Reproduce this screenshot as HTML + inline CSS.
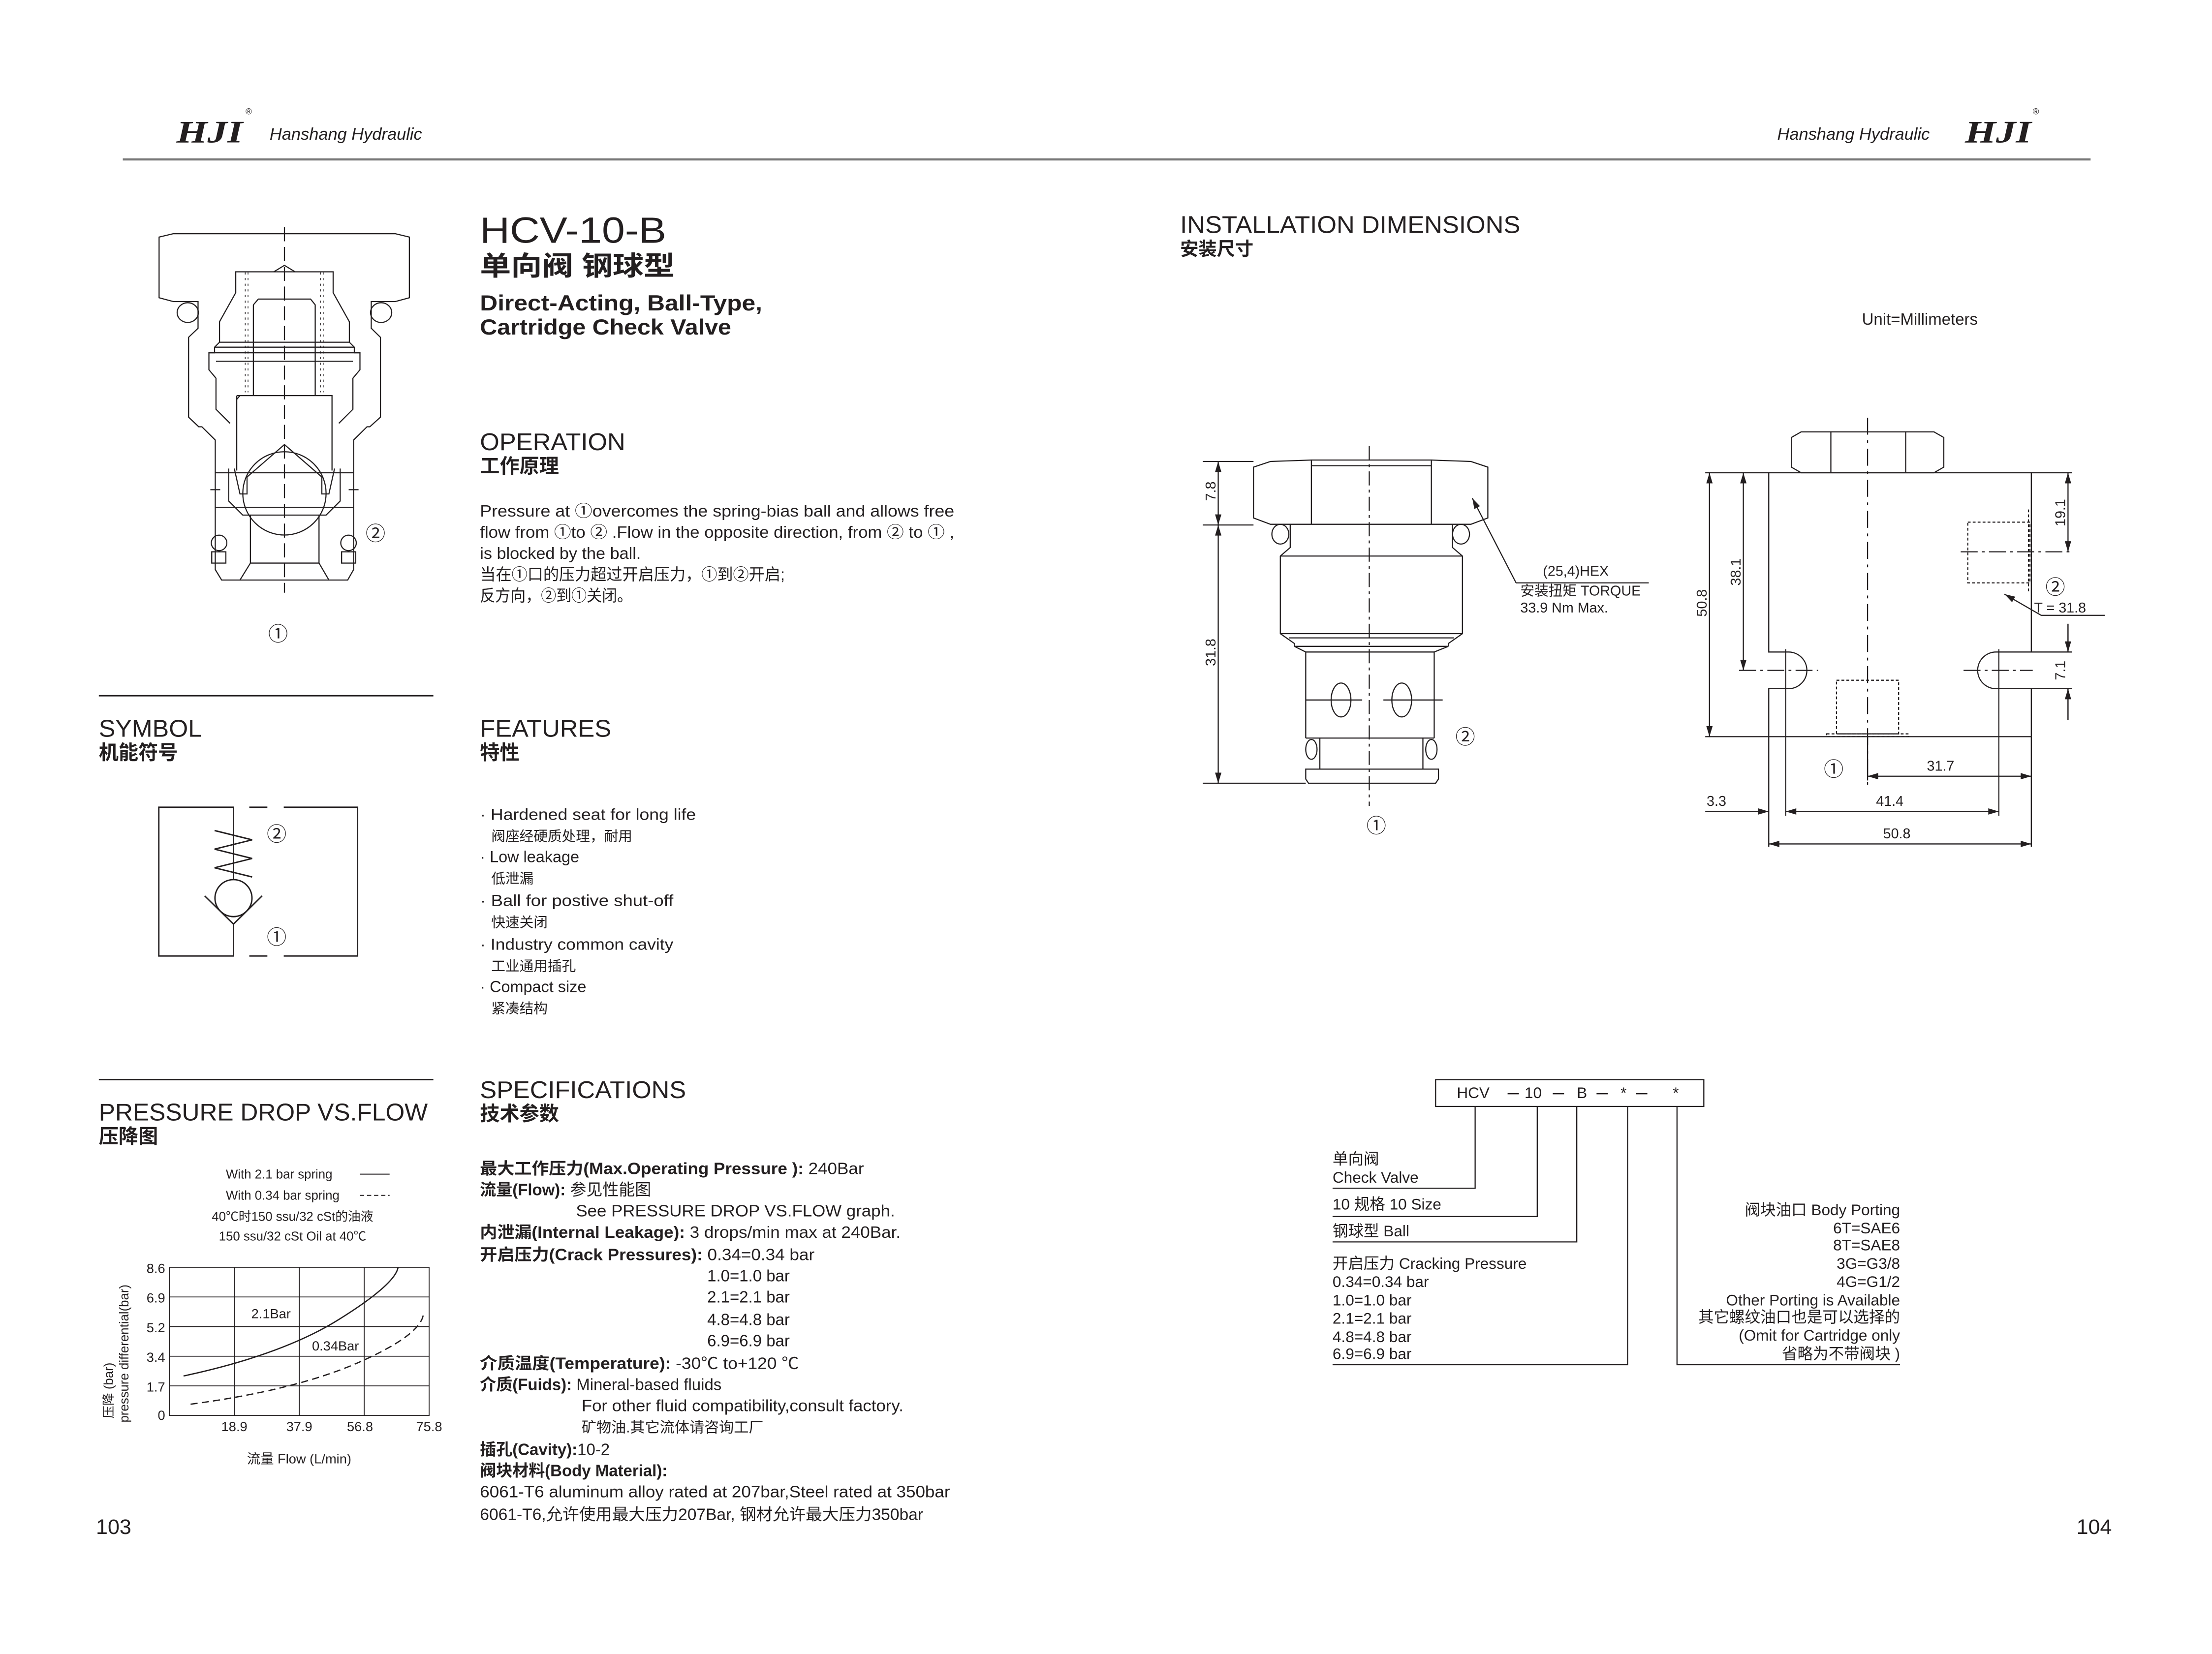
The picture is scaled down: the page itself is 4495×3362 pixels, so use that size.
<!DOCTYPE html>
<html><head><meta charset="utf-8"><style>
html,body{margin:0;padding:0;background:#fff}
svg{display:block}
text{font-family:"Liberation Sans","Noto Sans CJK SC",sans-serif;fill:#231f20}
.b{font-weight:bold}
</style></head><body>
<svg width="4495" height="3362" viewBox="0 0 1567 1172" preserveAspectRatio="none" xmlns="http://www.w3.org/2000/svg">
<defs>
<marker id="a" viewBox="0 0 10 6" refX="10" refY="3" markerWidth="8" markerHeight="4.5" orient="auto-start-reverse" markerUnits="userSpaceOnUse"><path d="M0 0 L10 3 L0 6 Z" fill="#231f20"/></marker>
</defs>
<line x1="87" y1="113" x2="1481" y2="113" stroke="#777" stroke-width="1.5"/>
<text x="125" y="101" font-size="22" font-style="italic" class="b" style="font-family:'Liberation Serif',serif" textLength="47" lengthAdjust="spacingAndGlyphs">HJI</text>
<text x="174" y="81" font-size="6">®</text>
<text x="191" y="99" font-size="12" font-style="italic">Hanshang Hydraulic</text>
<text x="1259" y="99" font-size="12" font-style="italic">Hanshang Hydraulic</text>
<text x="1392" y="101" font-size="22" font-style="italic" class="b" style="font-family:'Liberation Serif',serif" textLength="47" lengthAdjust="spacingAndGlyphs">HJI</text>
<text x="1440" y="81" font-size="6">®</text>

<!-- left valve section drawing -->
<g stroke="#231f20" fill="none" stroke-width="0.8">
<path d="M122.8 165.6 L280 165.6 L290 168 L290 211 L280 213.7 L263 213.7 L263 232.6 L269.5 239 L269.5 295.6 L262 302.4 L260 302.4 L250.5 311.8 L250.5 403.6 L246.3 411 L157 411 L152.5 403.6 L152.5 311.8 L143 302.4 L140.8 302.4 L133.6 295.6 L133.6 239 L140.3 232.6 L140.3 213.7 L122.8 213.7 L112.7 211 L112.7 168 Z"/>
<ellipse cx="133" cy="221.5" rx="7.5" ry="7"/><ellipse cx="270" cy="221.5" rx="7.5" ry="7"/>
<path d="M167 207.4 L167 192.6 L236 192.6 L236 207.4 L247.5 228 L247.5 242.5 L251 246 L251 250 L255 250 L255 262 L250 268 L250 290 L240 300 M167 207.4 L155.5 228 L155.5 242.5 L152 246 L152 250 L148 250 L148 262 L153 268 L153 290 L163 300"/>
<path d="M155.5 242.5 H247.5 M152 246 H251 M148 250 H255 M153 256 H250"/>
<path d="M194 192.6 L201.5 188 L209 192.6"/>
<path d="M179.5 280.3 V216 L183 211.9 H220 L223.3 216 V280.3"/>
<path d="M167.7 280.3 H235.2 V333.4 M167.7 280.3 V333.4 M170 280.3 L167.7 283"/>
<path d="M152.5 335 H250.3 M152.5 359.5 H250.3"/>
<path d="M166 332 L170 350 H175 L175 338 L201.5 315 L228 338 L228 350 H233 L237 332"/>
<path d="M162 332 V355 L172 365 H231 L241 355 V332"/>
<circle cx="201.5" cy="349.6" r="29.5"/>
<path d="M177.4 365 V399 H226 V365 M177.4 399 L170 411 M226 399 L233 411"/>
<ellipse cx="155.2" cy="384.7" rx="5.5" ry="5.5"/><ellipse cx="246.9" cy="384.7" rx="5.5" ry="5.5"/>
<rect x="150" y="391" width="10" height="8"/><rect x="242" y="391" width="10" height="8"/>
<path d="M149 347 H156 M247 347 H254"/>
<line x1="201.5" y1="161" x2="201.5" y2="420" stroke-dasharray="10 4"/>
</g>
<g fill="none" stroke="#231f20" stroke-width="0.5">
<path d="M175.7 193 V278 M227 193 V278" stroke-dasharray="1.5 2.5"/>
<path d="M173.7 193 V278 M229 193 V278" stroke-dasharray="1.5 2.5"/>
</g>
<text x="259" y="383" font-size="14">②</text>
<text x="190" y="454" font-size="14">①</text>

<!-- Title -->
<text x="340" y="172" font-size="26" textLength="132" lengthAdjust="spacingAndGlyphs">HCV-10-B</text>
<text x="340" y="195" font-size="19" class="b" textLength="138" lengthAdjust="spacingAndGlyphs">单向阀 钢球型</text>
<text x="340" y="220" font-size="15.5" class="b" textLength="200" lengthAdjust="spacingAndGlyphs">Direct-Acting, Ball-Type,</text>
<text x="340" y="237" font-size="15.5" class="b" textLength="178" lengthAdjust="spacingAndGlyphs">Cartridge Check Valve</text>

<text x="340" y="319" font-size="17" textLength="103" lengthAdjust="spacingAndGlyphs">OPERATION</text>
<text x="340" y="335" font-size="14" class="b">工作原理</text>
<g font-size="11.5">
<text x="340" y="366" textLength="336" lengthAdjust="spacingAndGlyphs">Pressure at ①overcomes the spring-bias ball and allows free</text>
<text x="340" y="381" textLength="336" lengthAdjust="spacingAndGlyphs">flow from ①to ② .Flow in the opposite direction, from ② to ① ,</text>
<text x="340" y="396" textLength="114" lengthAdjust="spacingAndGlyphs">is blocked by the ball.</text>
<text x="340" y="411" textLength="216" lengthAdjust="spacingAndGlyphs">当在①口的压力超过开启压力，①到②开启;</text>
<text x="340" y="426" textLength="108" lengthAdjust="spacingAndGlyphs">反方向，②到①关闭。</text>
</g>

<!-- Symbol -->
<line x1="70" y1="493" x2="307" y2="493" stroke="#231f20" stroke-width="1"/>
<text x="70" y="522" font-size="17" textLength="73" lengthAdjust="spacingAndGlyphs">SYMBOL</text>
<text x="70" y="538" font-size="14" class="b">机能符号</text>
<g stroke="#231f20" fill="none" stroke-width="1">
<path d="M165.4 588 V572 H112.5 V677.4 H165.4 V654.8 M165.4 572 V623"/>
<path d="M176.6 572 H189.4 M176.6 677.4 H189.4 M201 572 H253.3 V677.4 H201"/>
<path d="M152 588.5 L178.6 595.1 L152 601.7 L178.6 608.3 L152 614.9 L178.6 621.4"/>
<circle cx="165.4" cy="636.4" r="13.1"/>
<path d="M145 634.8 L165.4 654.8 L185.7 634.8"/>
</g>
<text x="189" y="596" font-size="14">②</text>
<text x="189" y="669" font-size="14">①</text>

<!-- Features -->
<text x="340" y="522" font-size="17" textLength="93" lengthAdjust="spacingAndGlyphs">FEATURES</text>
<text x="340" y="538" font-size="14" class="b">特性</text>
<g font-size="11.3">
<text x="340" y="581" textLength="153" lengthAdjust="spacingAndGlyphs">· Hardened seat for long life</text>
<text x="348" y="596" font-size="10">阀座经硬质处理，耐用</text>
<text x="340" y="611">· Low leakage</text>
<text x="348" y="626" font-size="10">低泄漏</text>
<text x="340" y="642" textLength="137" lengthAdjust="spacingAndGlyphs">· Ball for postive shut-off</text>
<text x="348" y="657" font-size="10">快速关闭</text>
<text x="340" y="673" textLength="137" lengthAdjust="spacingAndGlyphs">· Industry common cavity</text>
<text x="348" y="688" font-size="10">工业通用插孔</text>
<text x="340" y="703">· Compact size</text>
<text x="348" y="718" font-size="10">紧凑结构</text>
</g>

<!-- Pressure drop -->
<line x1="70" y1="765" x2="307" y2="765" stroke="#231f20" stroke-width="1"/>
<text x="70" y="794" font-size="17" textLength="233" lengthAdjust="spacingAndGlyphs">PRESSURE DROP VS.FLOW</text>
<text x="70" y="810" font-size="14" class="b">压降图</text>
<g font-size="9">
<text x="160" y="835">With 2.1 bar spring</text>
<line x1="255" y1="832" x2="276" y2="832" stroke="#231f20" stroke-width="0.7"/>
<text x="160" y="850">With 0.34 bar spring</text>
<line x1="255" y1="847" x2="276" y2="847" stroke="#231f20" stroke-width="0.7" stroke-dasharray="3 2"/>
<text x="150" y="865">40℃时150 ssu/32 cSt的油液</text>
<text x="155" y="879">150 ssu/32 cSt Oil at 40℃</text>
</g>
<g stroke="#231f20" fill="none" stroke-width="0.6">
<rect x="120" y="898" width="184" height="105"/>
<path d="M120 919 H304 M120 940 H304 M120 961 H304 M120 982 H304 M166 898 V1003 M212 898 V1003 M258 898 V1003"/>
<path d="M130 975 Q200 960 240 935 T282 898" stroke-width="0.9"/>
<path d="M135 995 Q210 985 255 965 T300 930" stroke-width="0.9" stroke-dasharray="5 3"/>
</g>
<g font-size="9.5">
<text x="117" y="902" text-anchor="end">8.6</text>
<text x="117" y="923" text-anchor="end">6.9</text>
<text x="117" y="944" text-anchor="end">5.2</text>
<text x="117" y="965" text-anchor="end">3.4</text>
<text x="117" y="986" text-anchor="end">1.7</text>
<text x="117" y="1006" text-anchor="end">0</text>
<text x="166" y="1014" text-anchor="middle">18.9</text>
<text x="212" y="1014" text-anchor="middle">37.9</text>
<text x="255" y="1014" text-anchor="middle">56.8</text>
<text x="304" y="1014" text-anchor="middle">75.8</text>
<text x="178" y="934">2.1Bar</text>
<text x="221" y="957">0.34Bar</text>
<text x="175" y="1037">流量 Flow (L/min)</text>
<text transform="translate(80,1005) rotate(-90)" font-size="9">压降 (bar)</text>
<text transform="translate(91,1008) rotate(-90)" font-size="9">pressure differential(bar)</text>
</g>

<!-- Specifications -->
<text x="340" y="778" font-size="17" textLength="146" lengthAdjust="spacingAndGlyphs">SPECIFICATIONS</text>
<text x="340" y="794" font-size="14" class="b">技术参数</text>
<g font-size="11.5">
<text x="340" y="832" textLength="272" lengthAdjust="spacingAndGlyphs"><tspan class="b">最大工作压力(Max.Operating Pressure ):</tspan> 240Bar</text>
<text x="340" y="847"><tspan class="b">流量(Flow):</tspan> 参见性能图</text>
<text x="408" y="862" textLength="226" lengthAdjust="spacingAndGlyphs">See PRESSURE DROP VS.FLOW graph.</text>
<text x="340" y="877" textLength="298" lengthAdjust="spacingAndGlyphs"><tspan class="b">内泄漏(Internal Leakage):</tspan> 3 drops/min max at 240Bar.</text>
<text x="340" y="893" textLength="237" lengthAdjust="spacingAndGlyphs"><tspan class="b">开启压力(Crack Pressures):</tspan> 0.34=0.34 bar</text>
<text x="501" y="908">1.0=1.0 bar</text>
<text x="501" y="923">2.1=2.1 bar</text>
<text x="501" y="939">4.8=4.8 bar</text>
<text x="501" y="954">6.9=6.9 bar</text>
<text x="340" y="970" textLength="226" lengthAdjust="spacingAndGlyphs"><tspan class="b">介质温度(Temperature):</tspan> -30℃ to+120 ℃</text>
<text x="340" y="985"><tspan class="b">介质(Fuids):</tspan> Mineral-based fluids</text>
<text x="412" y="1000" textLength="228" lengthAdjust="spacingAndGlyphs">For other fluid compatibility,consult factory.</text>
<text x="412" y="1015" font-size="10.5">矿物油.其它流体请咨询工厂</text>
<text x="340" y="1031"><tspan class="b">插孔(Cavity):</tspan>10-2</text>
<text x="340" y="1046" class="b">阀块材料(Body Material):</text>
<text x="340" y="1061" textLength="333" lengthAdjust="spacingAndGlyphs">6061-T6 aluminum alloy rated at 207bar,Steel rated at 350bar</text>
<text x="340" y="1077" textLength="314" lengthAdjust="spacingAndGlyphs">6061-T6,允许使用最大压力207Bar, 钢材允许最大压力350bar</text>
</g>
<text x="68" y="1087" font-size="15">103</text>
<text x="1471" y="1087" font-size="15">104</text>

<!-- Installation -->
<text x="836" y="165" font-size="17" textLength="241" lengthAdjust="spacingAndGlyphs">INSTALLATION DIMENSIONS</text>
<text x="836" y="181" font-size="13" class="b">安装尺寸</text>
<text x="1319" y="230" font-size="11.5">Unit=Millimeters</text>

<g stroke="#231f20" fill="none" stroke-width="0.8">
<!-- cartridge -->
<path d="M888 331 L900 327 L929 326 L1014 326 L1042 327 L1054 331 L1054 367 L1042 371.5 L900 371.5 L888 367 Z M929 326 V371.5 M1014 326 V371.5 M929 330 L1014 330"/>
<ellipse cx="907" cy="378.5" rx="6" ry="7"/><ellipse cx="1035" cy="378.5" rx="6" ry="7"/>
<path d="M914 371.5 V388 L907 394 V449 L917 456 V458 M1029 371.5 V388 L1036 394 V449 L1026 456 V458 M907 394 H1036 M907 449 H1036 M917 458 H1026 M913 452 H1030"/>
<path d="M925 462 V523 M1016 462 V523 M917 458 L925 462 H1016 L1026 458"/>
<ellipse cx="950" cy="496" rx="7" ry="12"/><ellipse cx="993" cy="496" rx="7" ry="12"/>
<path d="M925 496 H965 M980 496 H1022"/>
<path d="M925 523 H1016 M935 523 V545 M1008 523 V545"/>
<ellipse cx="929" cy="531" rx="4" ry="7"/><ellipse cx="1014" cy="531" rx="4" ry="7"/>
<path d="M925 545 H1019 V552 L1017 555 H927 L925 552 Z"/>
<line x1="970" y1="316" x2="970" y2="571" stroke-dasharray="10 3 2 3"/>
<!-- dims -->
<path d="M852 327 H888 M852 372 H888 M852 555 H925"/>
<line x1="863" y1="327" x2="863" y2="372" marker-start="url(#a)" marker-end="url(#a)"/>
<line x1="863" y1="372" x2="863" y2="555" marker-start="url(#a)" marker-end="url(#a)"/>
<path d="M1074 413 L1043 353" marker-end="url(#a)"/>
<path d="M1074 413 H1168"/>
<!-- block -->
<path d="M1269 310 L1276 306 H1370 L1377 310 V331 L1370 335 H1276 L1269 331 Z M1297 306 V335 M1350 306 V335"/>
<path d="M1208 335 H1468 M1253 335 V462 H1267 A13 13 0 0 1 1267 488 H1253 V522 M1439 335 V462 H1414 A13 13 0 0 0 1414 488 H1439 V522 M1208 522 H1439"/>
<path d="M1323 296 V560" stroke-dasharray="12 4 2 4"/>
<path d="M1232 475 H1288 M1391 475 H1440 M1389 391 H1468" stroke-dasharray="12 3 2 3"/>
<rect x="1394" y="370" width="44" height="43" stroke-dasharray="2 1.5"/>
<path d="M1437 361 V420" stroke-dasharray="2 1.5"/>
<rect x="1301" y="482" width="44" height="38" stroke-dasharray="2 1.5"/>
<rect x="1294" y="520" width="58" height="2" stroke-dasharray="2 1.5"/>
<path d="M1439 462 H1468 M1439 488 H1468"/>
<line x1="1211" y1="335" x2="1211" y2="522" marker-start="url(#a)" marker-end="url(#a)"/>
<line x1="1235" y1="335" x2="1235" y2="475" marker-start="url(#a)" marker-end="url(#a)"/>
<line x1="1465" y1="335" x2="1465" y2="391" marker-start="url(#a)" marker-end="url(#a)"/>
<path d="M1465 442 V462 M1465 488 V510"/>
<line x1="1465" y1="442" x2="1465" y2="462" marker-end="url(#a)"/>
<line x1="1465" y1="510" x2="1465" y2="488" marker-end="url(#a)"/>
<path d="M1446 436 L1420 421" marker-end="url(#a)"/>
<path d="M1446 436 H1491"/>
<path d="M1253 522 V600 M1265 460 V578 M1416 460 V578 M1439 522 V600 M1323 522 V553"/>
<line x1="1323" y1="550" x2="1439" y2="550" marker-start="url(#a)" marker-end="url(#a)"/>
<line x1="1208" y1="575" x2="1253" y2="575" marker-end="url(#a)"/>
<line x1="1265" y1="575" x2="1416" y2="575" marker-start="url(#a)" marker-end="url(#a)"/>
<line x1="1253" y1="598" x2="1439" y2="598" marker-start="url(#a)" marker-end="url(#a)"/>
</g>
<g font-size="10">
<text transform="translate(861,355) rotate(-90)">7.8</text>
<text transform="translate(861,472) rotate(-90)">31.8</text>
<text x="1093" y="408">(25,4)HEX</text>
<text x="1077" y="422">安装扭矩 TORQUE</text>
<text x="1077" y="434">33.9 Nm Max.</text>
<text transform="translate(1209,437) rotate(-90)">50.8</text>
<text transform="translate(1233,415) rotate(-90)">38.1</text>
<text transform="translate(1463,373) rotate(-90)">19.1</text>
<text transform="translate(1463,482) rotate(-90)">7.1</text>
<text x="1441" y="434">T = 31.8</text>
<text x="1365" y="546">31.7</text>
<text x="1209" y="571">3.3</text>
<text x="1329" y="571">41.4</text>
<text x="1334" y="594">50.8</text>
</g>
<text x="1031" y="527" font-size="14">②</text>
<text x="968" y="590" font-size="14">①</text>
<text x="1449" y="421" font-size="14">②</text>
<text x="1292" y="550" font-size="14">①</text>

<!-- ordering code -->
<g stroke="#231f20" fill="none" stroke-width="0.8">
<rect x="1017" y="765" width="190" height="19"/>
<path d="M1068 775 H1076 M1100 775 H1108 M1131 775 H1139 M1159 775 H1167"/>
<path d="M1045 784 V842 H944 M1089 784 V862 H944 M1117 784 V880 H944 M1153 784 V967 H944 M1188 784 V967 H1346"/>
</g>
<g font-size="11">
<text x="1032" y="778">HCV</text>
<text x="1080" y="778">10</text>
<text x="1117" y="778">B</text>
<text x="1148" y="778">*</text>
<text x="1185" y="778">*</text>
<text x="944" y="825">单向阀</text>
<text x="944" y="838">Check Valve</text>
<text x="944" y="857">10 规格 10 Size</text>
<text x="944" y="876">钢球型 Ball</text>
<text x="944" y="899">开启压力 Cracking Pressure</text>
<text x="944" y="912">0.34=0.34 bar</text>
<text x="944" y="925">1.0=1.0 bar</text>
<text x="944" y="938">2.1=2.1 bar</text>
<text x="944" y="951">4.8=4.8 bar</text>
<text x="944" y="963">6.9=6.9 bar</text>
<g text-anchor="end">
<text x="1346" y="861">阀块油口 Body Porting</text>
<text x="1346" y="874">6T=SAE6</text>
<text x="1346" y="886">8T=SAE8</text>
<text x="1346" y="899">3G=G3/8</text>
<text x="1346" y="912">4G=G1/2</text>
<text x="1346" y="925">Other Porting is Available</text>
<text x="1346" y="937">其它螺纹油口也是可以选择的</text>
<text x="1346" y="950">(Omit for Cartridge only</text>
<text x="1346" y="963">省略为不带阀块 )</text>
</g>
</g>
</svg>
</body></html>
